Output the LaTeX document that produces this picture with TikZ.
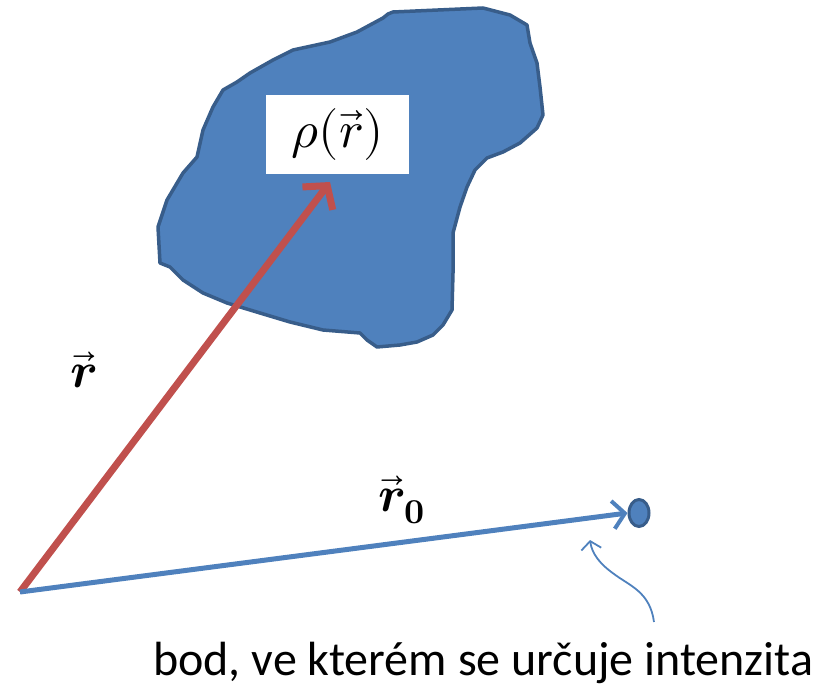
\documentclass[tikz,border=0pt]{standalone}
\usepackage{fontspec}
\usepackage{unicode-math}
\newfontfamily\carlito{Carlito}
\usetikzlibrary{arrows.meta,shapes.geometric}
\definecolor{ofblue}{HTML}{4F81BD}
\definecolor{ofdark}{HTML}{385D8A}
\definecolor{ofred}{HTML}{C0504D}
\tikzset{
  blob/.style={fill=ofblue,draw=ofdark,line width=3.5pt,line join=round},
  redvec/.style={draw=ofred,line width=7pt,-{Straight Barb[length=16pt,width=38pt,line width=7pt]}},
  bluevec/.style={draw=ofblue,line width=5pt,-{Straight Barb[length=12pt,width=28pt,line width=4pt]}},
  pointer/.style={draw=ofblue,line width=1.8pt,-{Straight Barb[length=8pt,width=20pt,line width=1.8pt]}},
  veclabel/.style={inner sep=0pt,font=\fontsize{50}{58}\selectfont},
}
\begin{document}
\begin{tikzpicture}[x=1pt,y=-1pt]
\useasboundingbox (0,0) rectangle (830,687);
% body
\draw[blob] (393,12) -- (483,8) -- (510,15) -- (527,25) -- (530,43) -- (537,63) -- (540,87)
  -- (543,115) -- (537,128) -- (520,143) -- (503,152) -- (487,158) -- (475,170)
  -- (467,187) -- (460,207) -- (453,233) -- (453,273) -- (452,310) -- (443,325)
  -- (433,335) -- (417,342) -- (400,345) -- (377,347) -- (367,340) -- (360,333)
  -- (323,330) -- (290,322) -- (260,313) -- (227,303) -- (203,293) -- (183,280)
  -- (170,267) -- (160,263) -- (158,227) -- (167,200) -- (183,173) -- (197,157)
  -- (203,130) -- (213,107) -- (223,90) -- (237,82) -- (250,73) -- (273,60)
  -- (293,50) -- (330,42) -- (357,32) -- (383,18) -- (388,14) -- cycle;
% density label
\node[fill=white,minimum width=143pt,minimum height=79pt,inner sep=0pt,
      font=\fontsize{52}{60}\selectfont] (rho) at (337.5,134.5) {$\rho(\vec{r})$};
% points
\coordinate (O) at (20,592);
\coordinate (rtip) at (330,182);
\node[ellipse,fill=ofblue,draw=ofdark,line width=3pt,minimum width=20pt,minimum height=27pt,inner sep=0pt] (P) at (639,513) {};
% vectors
\draw[redvec] (O) -- (rtip);
\draw[bluevec] (O) -- (P.west);
% labels
\node[veclabel] (rlab) at (84,370) {$\vec{\symbfit{r}}$};
\node[veclabel] (r0lab) at (402,500) {$\vec{\symbfit{r}}_{\symbf{0}}$};
% pointer
\coordinate (ps) at (654,622);
\coordinate (pe) at (590,540);
\draw[pointer] (ps) .. controls (650,592) and (630,586) .. (614,574) .. controls (600,564) and (592,554) .. (pe);
\node[anchor=base west,inner sep=0pt,font=\carlito\fontsize{48}{56}\selectfont] (caption) at (153,675) {bod, ve kterém se určuje intenzita};
\end{tikzpicture}
\end{document}
